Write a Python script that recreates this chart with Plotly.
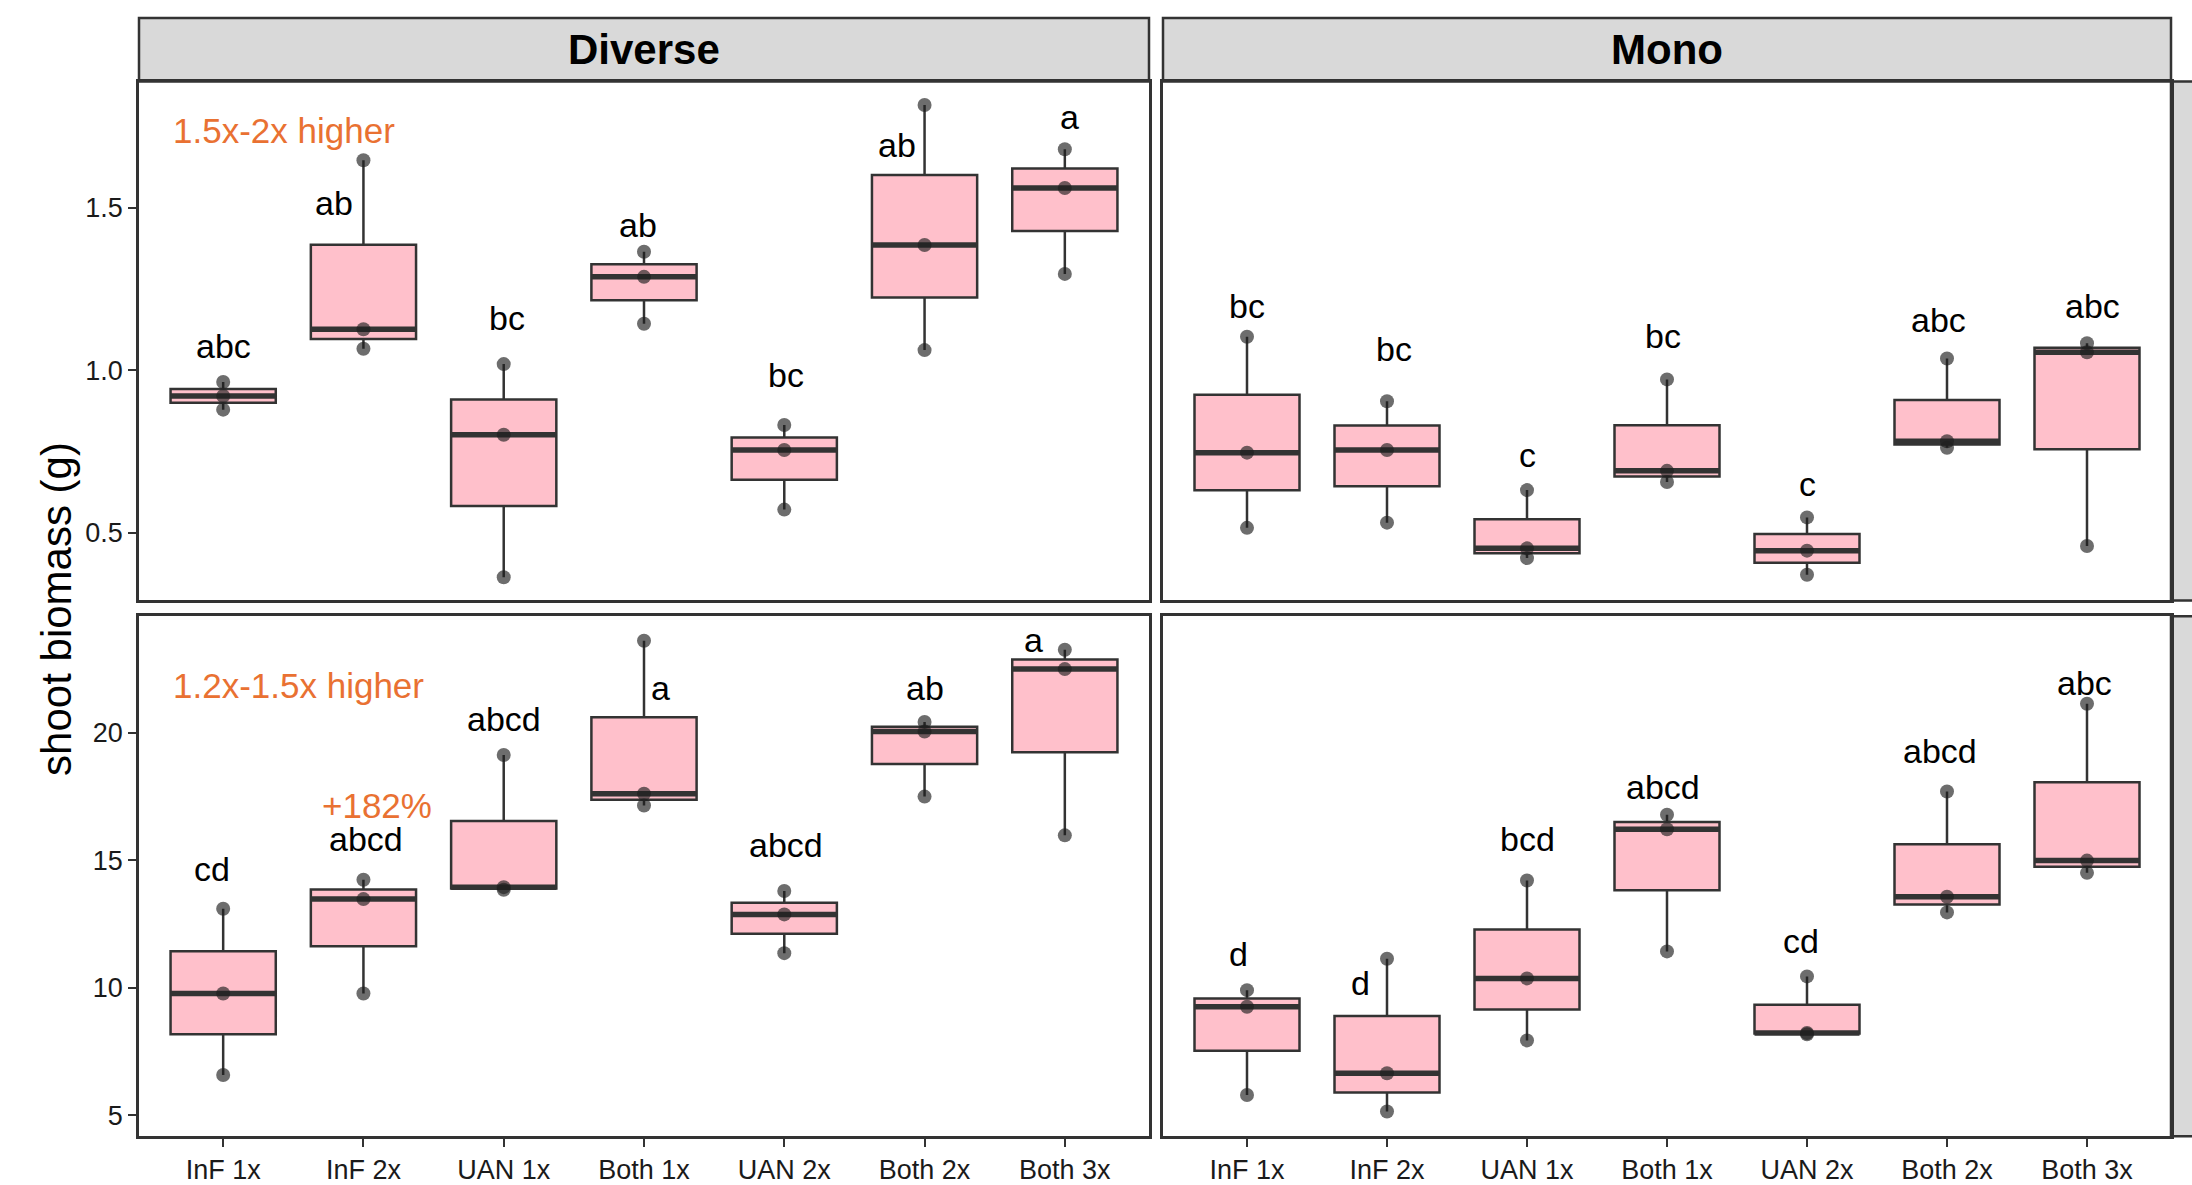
import numpy as np
import plotly.graph_objects as go

# ---------------- data ----------------
categories = ["InF 1x", "InF 2x", "UAN 1x", "Both 1x", "UAN 2x", "Both 2x", "Both 3x"]

# row 1 (upper panels), three observations per treatment
diverse_row1 = [[0.879, 0.921, 0.964], [1.066, 1.126, 1.645], [0.364, 0.802, 1.019],
                [1.143, 1.287, 1.364], [0.572, 0.755, 0.832], [1.062, 1.385, 1.815],
                [1.296, 1.560, 1.679]]
mono_row1 = [[0.516, 0.747, 1.103], [0.532, 0.755, 0.905], [0.423, 0.453, 0.632],
             [0.657, 0.691, 0.972], [0.372, 0.446, 0.548], [0.762, 0.782, 1.036],
             [0.460, 1.055, 1.083]]
# row 2 (lower panels)
diverse_row2 = [[6.58, 9.78, 13.10], [9.78, 13.48, 14.24], [13.85, 13.95, 19.13],
                [17.15, 17.61, 23.61], [11.36, 12.88, 13.80], [17.50, 20.05, 20.43],
                [15.98, 22.50, 23.26]]
mono_row2 = [[5.80, 9.26, 9.91], [5.15, 6.65, 11.14], [7.94, 10.37, 14.21],
             [11.43, 16.22, 16.79], [8.18, 8.23, 10.45], [12.96, 13.57, 17.70],
             [14.51, 14.99, 21.14]]

# significance letters and their heights
diverse_row1_letters = ["abc", "ab", "bc", "ab", "bc", "ab", "a"]
diverse_row1_letter_y = [1.074, 1.513, 1.160, 1.445, 0.985, 1.691, 1.777]
mono_row1_letters = ["bc", "bc", "c", "bc", "c", "abc", "abc"]
mono_row1_letter_y = [1.198, 1.066, 0.741, 1.106, 0.650, 1.153, 1.198]
diverse_row2_letters = ["cd", "abcd", "abcd", "a", "abcd", "ab", "a"]
diverse_row2_letter_y = [14.67, 15.82, 20.54, 21.74, 15.60, 21.74, 23.64]
mono_row2_letters = ["d", "d", "bcd", "abcd", "cd", "abcd", "abc"]
mono_row2_letter_y = [11.32, 10.20, 15.82, 17.89, 11.83, 19.29, 21.95]

facet_labels = ["Diverse", "Mono"]
y_label = "shoot biomass (g)"
row1_ticks = [0.5, 1.0, 1.5]
row2_ticks = [5, 10, 15, 20]
note_row1 = "1.5x-2x higher"
note_row2 = "1.2x-1.5x higher"
note_plus = "+182%"

# ---------------- styling ----------------
W, H = 2192, 1185
# letter horizontal nudges (category units)
nudge_d1 = [0, -0.21, 0.02, -0.04, 0.01, -0.20, 0.03]
nudge_m1 = [0, 0.05, 0, -0.03, 0, -0.06, 0.04]
nudge_d2 = [-0.08, 0.02, 0, 0.12, 0.01, 0, -0.22]
nudge_m2 = [-0.06, -0.19, 0, -0.03, -0.04, -0.05, -0.02]

def px_x(p):
    return p / W

def px_y(p):
    return 1 - p / H

left_dom = [px_x(139), px_x(1149)]
right_dom = [px_x(1163), px_x(2171)]
top_dom = [px_y(604), px_y(82)]
bot_dom = [px_y(1143), px_y(620)]

row1_range = [0.293, 1.887]
row2_range = [4.18, 24.57]

LINE = "#333333"
PINK = "#FFC0CB"
ORANGE = "#E97132"
FONT = "Liberation Sans, Arial, sans-serif"

fig = go.Figure()

panels = [
    (diverse_row1, diverse_row1_letters, diverse_row1_letter_y, nudge_d1, "x", "y"),
    (mono_row1, mono_row1_letters, mono_row1_letter_y, nudge_m1, "x2", "y2"),
    (diverse_row2, diverse_row2_letters, diverse_row2_letter_y, nudge_d2, "x3", "y3"),
    (mono_row2, mono_row2_letters, mono_row2_letter_y, nudge_m2, "x4", "y4"),
]

idx = np.arange(len(categories))
annotations = []
for vals, letters, ly, nudge, xa, ya in panels:
    arr = np.array(vals, dtype=float)
    xs = np.repeat(idx, arr.shape[1])
    fig.add_trace(go.Box(
        x=xs, y=arr.flatten(), xaxis=xa, yaxis=ya,
        width=0.75, fillcolor=PINK, line=dict(color=LINE, width=2.5),
        whiskerwidth=0, boxpoints=False, quartilemethod="inclusive",
        showlegend=False, hoverinfo="skip"))
    # thicker median line (ggplot style)
    med = np.median(arr, axis=1)
    mx, my = [], []
    for i, m in zip(idx, med):
        mx += [i - 0.375, i + 0.375, None]
        my += [m, m, None]
    fig.add_trace(go.Scatter(x=mx, y=my, xaxis=xa, yaxis=ya, mode="lines",
                             line=dict(color=LINE, width=5.5),
                             showlegend=False, hoverinfo="skip"))
    # observations
    fig.add_trace(go.Scatter(x=xs, y=arr.flatten(), xaxis=xa, yaxis=ya, mode="markers",
                             marker=dict(size=14, color="rgba(30,30,30,0.65)"),
                             showlegend=False, hoverinfo="skip"))
    for i, (t, yy) in enumerate(zip(letters, ly)):
        annotations.append(dict(x=i + nudge[i], y=yy, xref=xa, yref=ya, text=t,
                                showarrow=False, xanchor="center", yanchor="middle",
                                font=dict(family=FONT, size=34, color="black")))

common_x = dict(range=[-0.6, 6.6], tickvals=list(idx), ticktext=categories,
                showgrid=False, zeroline=False, showline=True, mirror=True,
                linecolor=LINE, linewidth=2.5)
common_y = dict(showgrid=False, zeroline=False, showline=True, mirror=True,
                linecolor=LINE, linewidth=2.5)
tickfont = dict(family=FONT, size=27, color="#1a1a1a")

fig.update_layout(
    width=W, height=H,
    margin=dict(l=0, r=0, t=0, b=0),
    paper_bgcolor="white", plot_bgcolor="white",
    xaxis=dict(common_x, domain=left_dom, anchor="y", showticklabels=False, ticks=""),
    xaxis2=dict(common_x, domain=right_dom, anchor="y2", showticklabels=False, ticks=""),
    xaxis3=dict(common_x, domain=left_dom, anchor="y3", ticks="outside", ticklen=8,
                tickwidth=2, tickcolor=LINE, tickfont=tickfont),
    xaxis4=dict(common_x, domain=right_dom, anchor="y4", ticks="outside", ticklen=8,
                tickwidth=2, tickcolor=LINE, tickfont=tickfont),
    yaxis=dict(common_y, domain=top_dom, anchor="x", range=row1_range,
               tickvals=row1_ticks, ticktext=["%.1f" % v for v in row1_ticks],
               ticks="outside", ticklen=8, tickwidth=2, tickcolor=LINE, tickfont=tickfont),
    yaxis2=dict(common_y, domain=top_dom, anchor="x2", range=row1_range,
                showticklabels=False, ticks=""),
    yaxis3=dict(common_y, domain=bot_dom, anchor="x3", range=row2_range,
                tickvals=row2_ticks, ticktext=[str(v) for v in row2_ticks],
                ticks="outside", ticklen=8, tickwidth=2, tickcolor=LINE, tickfont=tickfont),
    yaxis4=dict(common_y, domain=bot_dom, anchor="x4", range=row2_range,
                showticklabels=False, ticks=""),
)

shapes = []
# facet strips on top
for dom in (left_dom, right_dom):
    shapes.append(dict(type="rect", xref="paper", yref="paper",
                       x0=dom[0], x1=dom[1], y0=px_y(82), y1=px_y(18),
                       fillcolor="#D9D9D9", line=dict(color=LINE, width=2.5), layer="below"))
# row strips on the right (cut off by the image edge)
for dom in (top_dom, bot_dom):
    shapes.append(dict(type="rect", xref="paper", yref="paper",
                       x0=right_dom[1], x1=1.05, y0=dom[0], y1=dom[1],
                       fillcolor="#D9D9D9", line=dict(color=LINE, width=2.5), layer="below"))
fig.update_layout(shapes=shapes)

for lab, dom in zip(facet_labels, (left_dom, right_dom)):
    annotations.append(dict(x=(dom[0] + dom[1]) / 2, y=(px_y(82) + px_y(18)) / 2,
                            xref="paper", yref="paper", text="<b>%s</b>" % lab,
                            showarrow=False, xanchor="center", yanchor="middle",
                            font=dict(family=FONT, size=42, color="black")))

annotations.append(dict(x=px_x(57), y=(top_dom[1] + bot_dom[0]) / 2, xref="paper", yref="paper",
                        text=y_label, textangle=-90, showarrow=False,
                        xanchor="center", yanchor="middle",
                        font=dict(family=FONT, size=42, color="black")))

annotations.append(dict(x=px_x(171), y=px_y(131), xref="paper", yref="paper", text=note_row1,
                        showarrow=False, xanchor="left", yanchor="middle",
                        font=dict(family=FONT, size=35, color=ORANGE)))
annotations.append(dict(x=px_x(171), y=px_y(690), xref="paper", yref="paper", text=note_row2,
                        showarrow=False, xanchor="left", yanchor="middle",
                        font=dict(family=FONT, size=35, color=ORANGE)))
annotations.append(dict(x=px_x(320), y=px_y(810), xref="paper", yref="paper", text=note_plus,
                        showarrow=False, xanchor="left", yanchor="middle",
                        font=dict(family=FONT, size=35, color=ORANGE)))

fig.update_layout(annotations=annotations)
fig.write_html("out.html", config={"displayModeBar": False},
               post_script="document.body.style.margin='0';document.body.style.overflow='hidden';")
